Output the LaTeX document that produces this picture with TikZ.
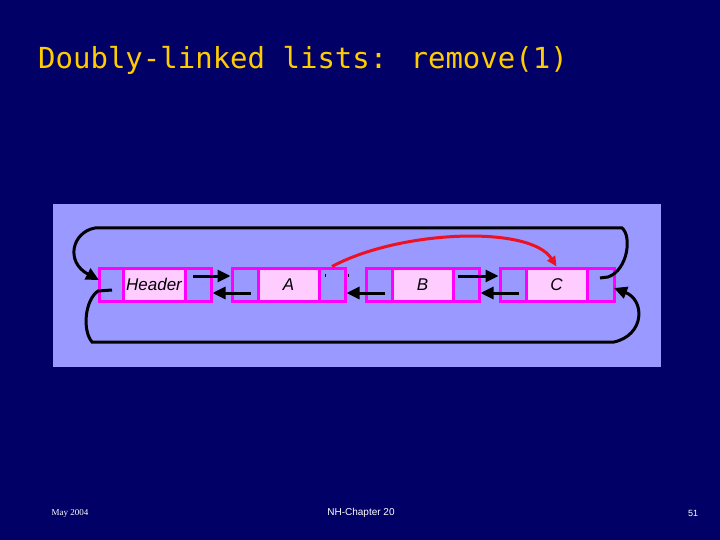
\documentclass[tikz,border=0pt]{standalone}
\usepackage{fontspec}
\setmainfont{Liberation Sans}
\newfontfamily\titlefont{DejaVu Sans Mono}
\newfontfamily\seriffont{Liberation Serif}
\usetikzlibrary{arrows.meta}
\definecolor{bg}{HTML}{000066}
\definecolor{panel}{HTML}{9999FF}
\definecolor{cellfill}{HTML}{FFCCFF}
\definecolor{mag}{HTML}{FF00FF}
\definecolor{ttl}{HTML}{FFCC00}
\definecolor{redarr}{HTML}{EE1122}
\tikzset{
  cell/.style={draw=mag,line width=3pt,fill=panel,minimum height=33pt,inner sep=0pt,font=\fontsize{17}{20}\selectfont},
  datacell/.style={cell,fill=cellfill},
  link/.style={line width=3pt,-{Triangle[length=13pt,width=12pt]}},
  wrap/.style={line width=3pt},
}
\begin{document}
\begin{tikzpicture}[x=1pt,y=-1pt]
\fill[bg] (0,0) rectangle (720,540);
\useasboundingbox (0,0) rectangle (720,540);
\node[ttl,font=\titlefont\fontsize{29}{32}\selectfont,anchor=west,inner sep=0pt] (title) at (38,60) {Doubly-linked lists: remove(1)};
\fill[panel] (53,204) rectangle (661,367);
% Header
\node[cell,minimum width=24pt] (hl) at (111,284.5) {};
\node[datacell,minimum width=62pt] (hd) at (154,284.5) {\itshape Header};
\node[cell,minimum width=26pt] (hr) at (198,284.5) {};
% A
\node[cell,minimum width=26pt] (al) at (245,284.5) {};
\node[datacell,minimum width=61pt] (ad) at (288.5,284.5) {\itshape A};
\node[cell,minimum width=26pt] (ar) at (332,284.5) {};
% B
\node[cell,minimum width=26pt] (bl) at (379,284.5) {};
\node[datacell,minimum width=61pt] (bd) at (422.5,284.5) {\itshape B};
\node[cell,minimum width=26pt] (br) at (466,284.5) {};
% C
\node[cell,minimum width=26pt] (cl) at (513,284.5) {};
\node[datacell,minimum width=61pt] (cd) at (556.5,284.5) {\itshape C};
\node[cell,minimum width=27pt] (cr) at (600.5,284.5) {};
% forward links
\coordinate (hs) at (193,276);
\coordinate (bs) at (458,276);
\draw[link] (hs) -- (al.west |- hs);
\draw[link] (bs) -- (cl.west |- bs);
% backward links
\coordinate (as) at (251,293);
\coordinate (bbs) at (385,293);
\coordinate (cs) at (519,293);
\draw[link] (as) -- (hr.east |- as);
\draw[link] (bbs) -- (ar.east |- bbs);
\draw[link] (cs) -- (br.east |- cs);
% tick marks in A right cell
\draw[black,line width=0.6pt] (325,274) -- (325,277) (348,274) -- (348,277);
% wrap top
\coordinate (ce) at (600,278);
\coordinate (ht) at (99,280);
\draw[wrap,-{Triangle[length=13pt,width=12pt]}] (ce) -- (608,277) .. controls (628,270) and (632,236) .. (622,228) -- (95,228) .. controls (72,232) and (65,262) .. (ht);
% wrap bottom
\coordinate (hb) at (112,290);
\coordinate (ct) at (614,288);
\draw[wrap,-{Triangle[length=13pt,width=12pt]}] (hb) -- (98,291) .. controls (85,300) and (82,330) .. (92,342) -- (614,342) .. controls (645,335) and (645,300) .. (ct);
% red link
\draw[redarr,line width=3pt,-{Triangle[length=10pt,width=9pt]}] (ar.north) .. controls (400,230) and (530,225) .. (cd.north);
% footer
\node[white,font=\seriffont\fontsize{9}{10}\selectfont] (date) at (70,513) {May 2004};
\node[white,font=\fontsize{10}{11}\selectfont] (chap) at (361,513) {NH-Chapter 20};
\node[white,font=\fontsize{9}{10}\selectfont] (num) at (693,513) {51};
\end{tikzpicture}
\end{document}
